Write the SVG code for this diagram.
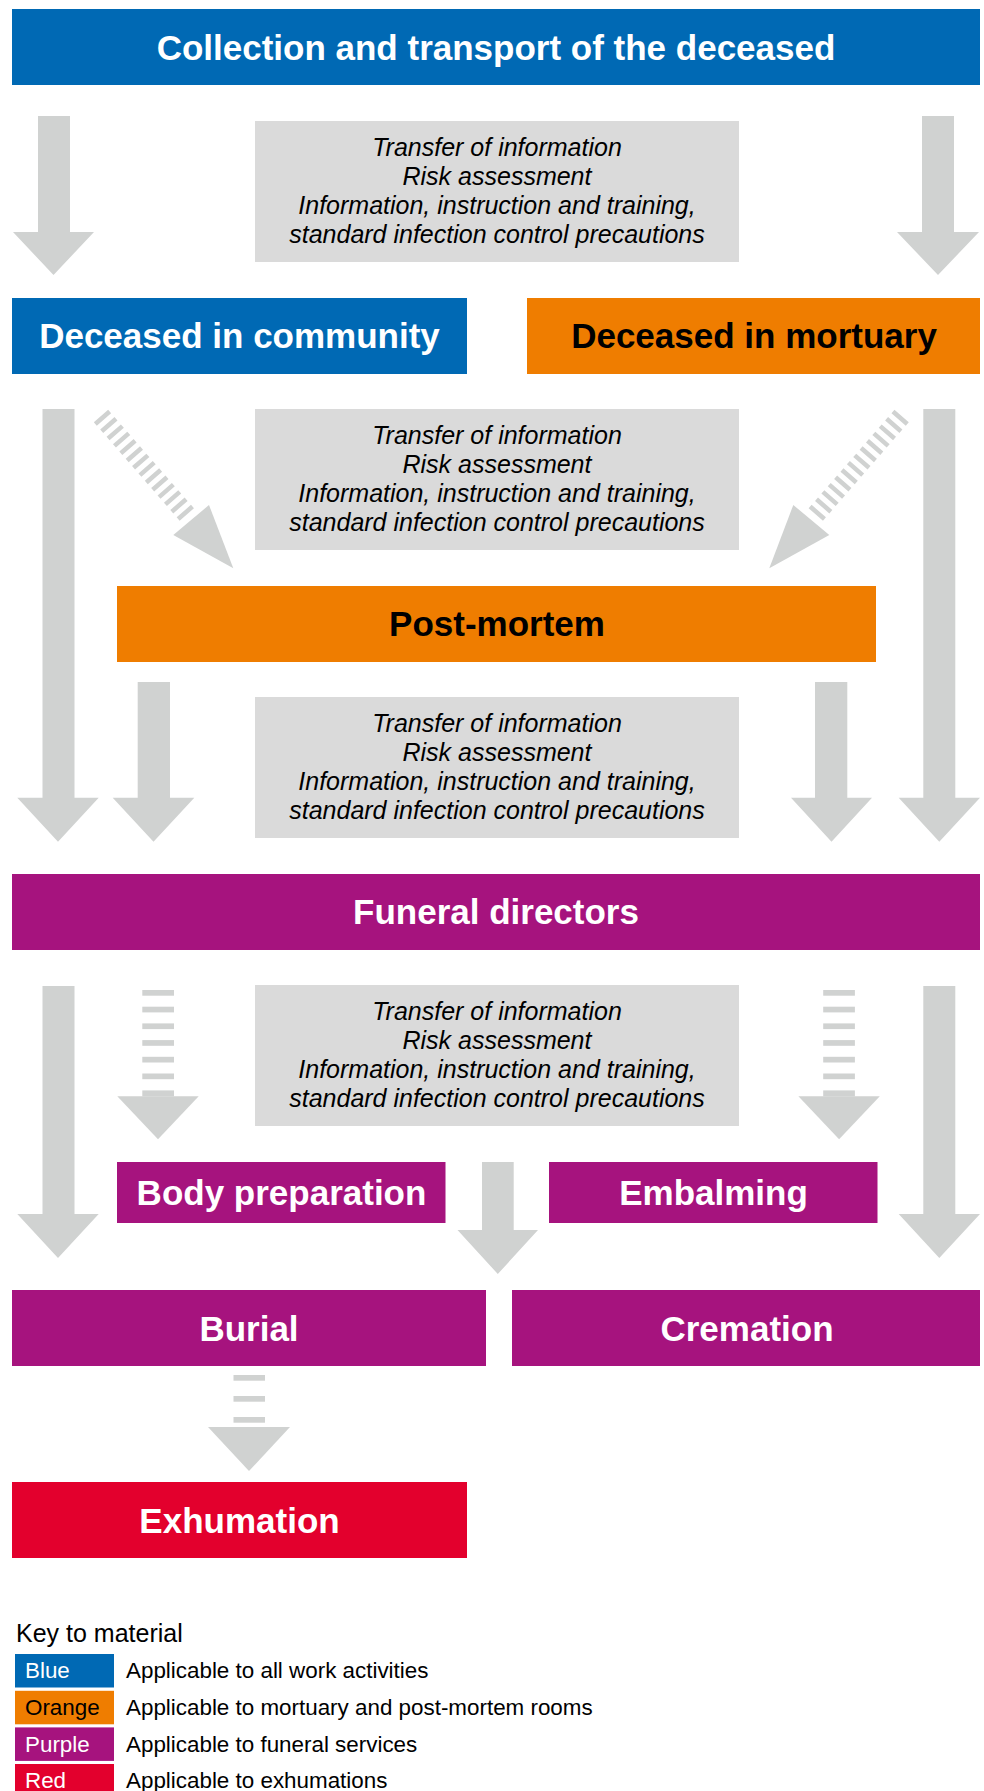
<svg xmlns="http://www.w3.org/2000/svg" width="984" height="1791" viewBox="0 0 984 1791">
<style>
.blue{fill:#0069B4}
.orange{fill:#EF7D00}
.purple{fill:#A6137E}
.red{fill:#E3002D}
.info{fill:#DADADA}
.arr{fill:#D0D2D1}
.hatch{stroke:#D0D2D1;stroke-width:19;fill:none;stroke-dasharray:4.5 5.2}
.t{font-family:"Liberation Sans",Arial,Helvetica,sans-serif;font-weight:bold;font-size:35px;text-anchor:middle}
.w{fill:#FFFFFF}
.k{fill:#000000}
.it{font-family:"Liberation Sans",Arial,Helvetica,sans-serif;font-style:italic;font-size:25px;text-anchor:middle;fill:#000000}
.lg{font-family:"Liberation Sans",Arial,Helvetica,sans-serif;font-size:22.4px}
</style>
<rect width="984" height="1791" fill="#FFFFFF"/>

<g id="connectors">
  <path class="arr" d="M38,116 H70 V232 H94 L53.5,275 L13,232 H38 Z"/>
  <path class="arr" d="M922,116 H954 V232 H979 L938,275 L897,232 H922 Z"/>
  <path class="arr" d="M42.5,409 H74.5 V797.7 H98.7 L58,841.7 L17.3,797.7 H42.5 Z"/>
  <path class="arr" d="M923.3,409 H955.3 V797.7 H980 L939.3,841.7 L898.7,797.7 H923.3 Z"/>
  <line class="hatch" x1="101" y1="416" x2="189" y2="517"/>
  <path class="arr" d="M209,505 L233.3,568.3 L173.3,535 Z"/>
  <line class="hatch" x1="901.6" y1="416" x2="813.6" y2="517"/>
  <path class="arr" d="M793.3,505 L769.3,568.3 L829.3,535 Z"/>
  <path class="arr" d="M137.7,682 H170 V797.7 H194.3 L153.5,841.7 L112.7,797.7 H137.7 Z"/>
  <path class="arr" d="M815,682 H847.3 V797.7 H872 L831.5,841.7 L791,797.7 H815 Z"/>
  <path class="arr" d="M42.5,986 H74.5 V1214 H98.7 L58,1258 L17.3,1214 H42.5 Z"/>
  <path class="arr" d="M923.3,986 H955.3 V1214 H980 L939.3,1258 L898.7,1214 H923.3 Z"/>
  <g class="arr">
    <rect x="142.3" y="990" width="31.7" height="5.7"/>
    <rect x="142.3" y="1006.7" width="31.7" height="5.7"/>
    <rect x="142.3" y="1023.4" width="31.7" height="5.7"/>
    <rect x="142.3" y="1040.1" width="31.7" height="5.7"/>
    <rect x="142.3" y="1056.8" width="31.7" height="5.7"/>
    <rect x="142.3" y="1073.5" width="31.7" height="5.7"/>
    <rect x="142.3" y="1090.4" width="31.7" height="6"/>
    <path d="M117.3,1096.3 H198.7 L158,1139.3 Z"/>
  </g>
  <g class="arr">
    <rect x="823.2" y="990" width="31.7" height="5.7"/>
    <rect x="823.2" y="1006.7" width="31.7" height="5.7"/>
    <rect x="823.2" y="1023.4" width="31.7" height="5.7"/>
    <rect x="823.2" y="1040.1" width="31.7" height="5.7"/>
    <rect x="823.2" y="1056.8" width="31.7" height="5.7"/>
    <rect x="823.2" y="1073.5" width="31.7" height="5.7"/>
    <rect x="823.2" y="1090.4" width="31.7" height="6"/>
    <path d="M798.4,1096.3 H879.8 L839.1,1139.3 Z"/>
  </g>
  <path class="arr" d="M482,1162 H513.7 V1230 H538 L497.8,1274 L457.5,1230 H482 Z"/>
  <g class="arr">
    <rect x="233.5" y="1375" width="31.5" height="5.7"/>
    <rect x="233.5" y="1396" width="31.5" height="5.7"/>
    <rect x="233.5" y="1417" width="31.5" height="5.7"/>
    <path d="M208,1427 H290 L249,1471 Z"/>
  </g>
</g>

<g id="info1">
  <rect class="info" x="255" y="121" width="484" height="141"/>
  <text class="it" x="497" y="155.5">Transfer of information</text>
  <text class="it" x="497" y="184.5">Risk assessment</text>
  <text class="it" x="497" y="213.5">Information, instruction and training,</text>
  <text class="it" x="497" y="242.5">standard infection control precautions</text>
</g>
<g id="info2">
  <rect class="info" x="255" y="409" width="484" height="141"/>
  <text class="it" x="497" y="443.5">Transfer of information</text>
  <text class="it" x="497" y="472.5">Risk assessment</text>
  <text class="it" x="497" y="501.5">Information, instruction and training,</text>
  <text class="it" x="497" y="530.5">standard infection control precautions</text>
</g>
<g id="info3">
  <rect class="info" x="255" y="697" width="484" height="141"/>
  <text class="it" x="497" y="731.5">Transfer of information</text>
  <text class="it" x="497" y="760.5">Risk assessment</text>
  <text class="it" x="497" y="789.5">Information, instruction and training,</text>
  <text class="it" x="497" y="818.5">standard infection control precautions</text>
</g>
<g id="info4">
  <rect class="info" x="255" y="985" width="484" height="141"/>
  <text class="it" x="497" y="1019.5">Transfer of information</text>
  <text class="it" x="497" y="1048.5">Risk assessment</text>
  <text class="it" x="497" y="1077.5">Information, instruction and training,</text>
  <text class="it" x="497" y="1106.5">standard infection control precautions</text>
</g>

<g id="collection">
  <rect class="blue" x="12" y="9" width="968" height="76"/>
  <text class="t w" x="496" y="59.5">Collection and transport of the deceased</text>
</g>
<g id="community">
  <rect class="blue" x="12" y="298" width="455" height="76"/>
  <text class="t w" x="239.5" y="348">Deceased in community</text>
</g>
<g id="mortuary">
  <rect class="orange" x="527" y="298" width="453" height="76"/>
  <text class="t k" x="754" y="348">Deceased in mortuary</text>
</g>
<g id="postmortem">
  <rect class="orange" x="117" y="586" width="759" height="76"/>
  <text class="t k" x="497" y="636">Post-mortem</text>
</g>
<g id="funeral">
  <rect class="purple" x="12" y="874" width="968" height="76"/>
  <text class="t w" x="496" y="924">Funeral directors</text>
</g>
<g id="bodyprep">
  <rect class="purple" x="117" y="1162" width="328.5" height="61"/>
  <text class="t w" x="281.5" y="1205">Body preparation</text>
</g>
<g id="embalming">
  <rect class="purple" x="549" y="1162" width="328.5" height="61"/>
  <text class="t w" x="713.5" y="1205">Embalming</text>
</g>
<g id="burial">
  <rect class="purple" x="12" y="1290" width="474" height="76"/>
  <text class="t w" x="249" y="1340.5">Burial</text>
</g>
<g id="cremation">
  <rect class="purple" x="512" y="1290" width="468" height="76"/>
  <text class="t w" x="747" y="1340.5">Cremation</text>
</g>
<g id="exhumation">
  <rect class="red" x="12" y="1482" width="455" height="76"/>
  <text class="t w" x="239.5" y="1532.5">Exhumation</text>
</g>

<g id="legend">
  <text class="lg" x="16" y="1642" style="font-size:25px">Key to material</text>
  <rect class="blue" x="15" y="1654" width="99" height="33.5"/>
  <text class="lg w" x="25" y="1678.3">Blue</text>
  <text class="lg" x="126" y="1678.3">Applicable to all work activities</text>
  <rect class="orange" x="15" y="1690.8" width="99" height="33.5"/>
  <text class="lg k" x="25" y="1715">Orange</text>
  <text class="lg" x="126" y="1715">Applicable to mortuary and post-mortem rooms</text>
  <rect class="purple" x="15" y="1727.4" width="99" height="33.5"/>
  <text class="lg w" x="25" y="1751.7">Purple</text>
  <text class="lg" x="126" y="1751.7">Applicable to funeral services</text>
  <rect class="red" x="15" y="1764" width="99" height="33.5"/>
  <text class="lg w" x="25" y="1788.3">Red</text>
  <text class="lg" x="126" y="1788.3">Applicable to exhumations</text>
</g>
</svg>
